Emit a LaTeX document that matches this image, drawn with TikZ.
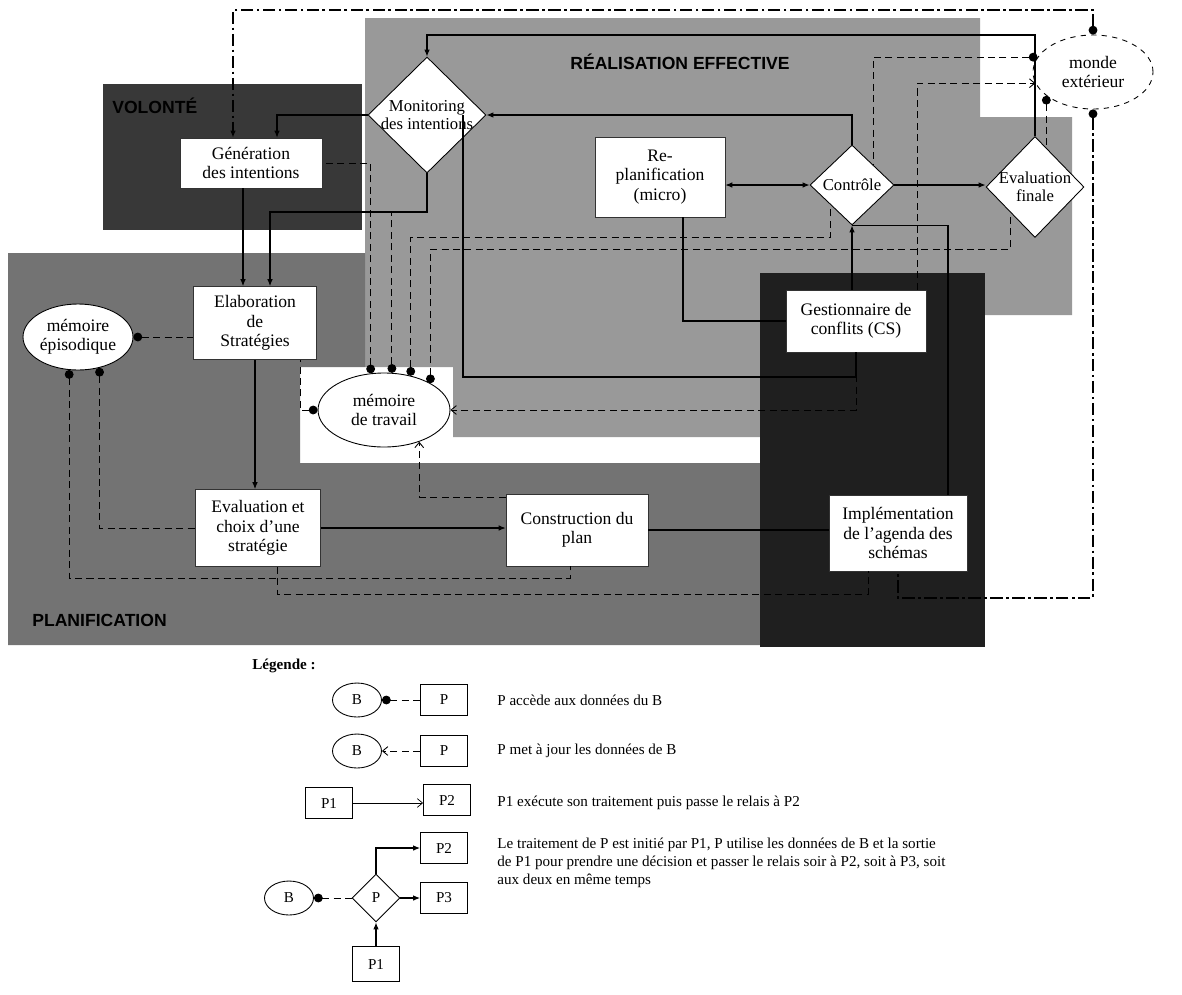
\documentclass[tikz,border=0pt]{standalone}
\usepackage{fontspec}
\setmainfont{Liberation Serif}
\setsansfont{Liberation Sans}
\usetikzlibrary{arrows.meta,shapes.geometric}

\begin{document}
\begin{tikzpicture}[x=0.02cm,y=-0.02cm,
    box/.style={draw=black!80,fill=white,line width=0.4pt,inner sep=1pt,
                font=\fontsize{10}{11}\selectfont,align=center},
    choice/.style={draw,fill=white,diamond,inner sep=0pt,line width=0.5pt},
    choicetext/.style={font=\fontsize{9.5}{10.5}\selectfont,align=center,inner sep=0pt},
    mem/.style={draw,fill=white,ellipse,inner sep=0pt,line width=0.5pt,
                font=\fontsize{10}{11}\selectfont,align=center},
    zone/.style={font=\sffamily\bfseries\fontsize{10}{11}\selectfont,
                 anchor=west,inner sep=0pt},
    flow/.style={-{Latex[length=4pt,width=3.2pt]},line width=0.6pt},
    link/.style={line width=0.6pt},
    dashline/.style={line width=0.5pt,dash pattern=on 4pt off 2.5pt},
    reads/.style={{Circle[length=5pt]}-,dashline},
    writes/.style={-{Straight Barb[length=3pt,width=5pt]},dashline},
    outer/.style={line width=0.9pt,dash pattern=on 7pt off 2pt on 1.5pt off 2pt},
    lbox/.style={draw,fill=white,line width=0.5pt,minimum width=0.94cm,
                 minimum height=0.62cm,inner sep=0pt,font=\fontsize{8.6}{10}\selectfont},
    lmem/.style={draw,ellipse,line width=0.5pt,minimum width=0.98cm,
                 minimum height=0.68cm,inner sep=0pt,font=\fontsize{8.6}{10}\selectfont},
    ltext/.style={anchor=west,align=left,inner sep=0pt,font=\fontsize{8.6}{10}\selectfont},
]

\useasboundingbox (0,0) rectangle (1182,994);

% ---- Zones ---------------------------------------------------------------
\fill[black!40] (365,18) -- (980,18) -- (980,117) -- (1072,117) -- (1072,315)
    -- (760,315) -- (760,437) -- (453,437) -- (453,367) -- (365,367) -- cycle;
\fill[black!55] (8,253) -- (365,253) -- (365,367) -- (300,367) -- (300,463)
    -- (760,463) -- (760,645) -- (8,645) -- cycle;
\fill[black!78] (103,84) rectangle (362,230);
\fill[black!88] (760,273) rectangle (985,647);

\node[zone] (zvol) at (112,106) {VOLONTÉ};
\node[zone] (zrea) at (570,62) {RÉALISATION EFFECTIVE};
\node[zone] (zpla) at (32,620) {PLANIFICATION};

% ---- Processes -------------------------------------------------------------
\node[box,minimum width=2.84cm,minimum height=1.0cm] (gen) at (251,163)
    {Génération\\des intentions};
\node[box,minimum width=2.46cm,minimum height=1.46cm] (elab) at (255,323)
    {Elaboration\\de\\Stratégies};
\node[box,minimum width=2.5cm,minimum height=1.54cm] (evalc) at (258,528)
    {Evaluation et\\choix d'une\\stratégie};
\node[box,minimum width=2.84cm,minimum height=1.44cm] (cons) at (577,530)
    {Construction du\\plan};
\node[box,minimum width=2.6cm,minimum height=1.6cm] (replan) at (660,177)
    {Re-\\planification\\(micro)};
\node[box,minimum width=2.8cm,minimum height=1.24cm] (cs) at (856,321)
    {Gestionnaire de\\conflits (CS)};
\node[box,minimum width=2.76cm,minimum height=1.52cm] (impl) at (898,533)
    {Implémentation\\de l'agenda des\\schémas};

% ---- Decisions -------------------------------------------------------------
\node[choice,minimum width=2.36cm,minimum height=2.32cm] (mon) at (427,115) {};
\node[choicetext] (mon-t) at (mon) {Monitoring\\des intentions};
\node[choice,minimum width=1.68cm,minimum height=1.6cm] (ctrl) at (852,185) {};
\node[choicetext] (ctrl-t) at (ctrl) {Contrôle};
\node[choice,minimum width=1.96cm,minimum height=2.02cm] (evalf) at (1035,187) {};
\node[choicetext] (evalf-t) at (evalf) {Evaluation\\finale};

% ---- Memories --------------------------------------------------------------
\node[mem,minimum width=2.2cm,minimum height=1.32cm] (mepi) at (78,337)
    {mémoire\\épisodique};
\node[mem,minimum width=2.64cm,minimum height=1.48cm] (mtrav) at (384,410)
    {mémoire\\de travail};
\node[mem,dashed,minimum width=2.4cm,minimum height=1.48cm] (monde) at (1093,72)
    {monde\\extérieur};

% ---- Helper coordinates ----------------------------------------------------
\coordinate (ol) at (0,10);
\coordinate (ytop) at (0,35);
\coordinate (m1) at (277,115);
\coordinate (m2) at (270,212);
\coordinate (r1) at (683,320);
\coordinate (s1) at (463,115);
\coordinate (s2) at (463,377);
\coordinate (c1) at (948,0);
\coordinate (d1) at (0,237);
\coordinate (d2) at (0,249);
\coordinate (b1) at (0,578);
\coordinate (b2) at (0,594);
\coordinate (ob) at (0,598);

% ---- Control flow ----------------------------------------------------------
\draw[flow] (evalf.north) -- (evalf.north |- ytop) -| (mon.north);
\draw[flow] (ctrl.north) |- (mon.east);
\draw[flow] (mon.west) -- (m1) -- (m1 |- gen.north);
\draw[flow] (mon.south) |- (m2) -- (m2 |- elab.north);
\draw[flow] ([xshift=-0.16cm]gen.south) -- ([xshift=-0.16cm]gen.south |- elab.north);
\draw[{Latex[length=4pt,width=3.2pt]}-{Latex[length=4pt,width=3.2pt]},line width=0.6pt]
    (replan.east |- ctrl.west) -- (ctrl.west);
\draw[flow] (ctrl.east) -- (ctrl.east -| evalf.west);
\draw[flow] (cs.north -| ctrl.south) -- (ctrl.south);
\draw[link] (impl.north -| c1) |- (ctrl.south);
\draw[link] (replan.south -| r1) |- (cs.west);
\draw[link] (s1) -- (s2) -| (cs.south);
\draw[flow] (elab.south) -- (elab.south |- evalc.north);
\draw[flow] (evalc.east) -- (evalc.east -| cons.west);
\draw[link] (cons.east) -- (cons.east -| impl.west);

% ---- Memory access ---------------------------------------------------------
\draw[reads] (mepi.east) -- (mepi.east -| elab.west);
\draw[reads] (mepi.305) |- (evalc.west);
\draw[reads] (mepi.255) -- (mepi.255 |- b1) -| ([xshift=-0.14cm]cons.south);
\draw[dashline] ([xshift=0.38cm]evalc.south) -- ([xshift=0.38cm]evalc.south |- b2)
    -| ([xshift=-0.6cm]impl.south);
\draw[reads] (mtrav.110) |- (gen.east);
\draw[reads] (mtrav.78) -- (mtrav.78 |- m2);
\draw[reads] (mtrav.52) -- (mtrav.52 |- d1) -| (ctrl.south west);
\draw[reads] (mtrav.30) -- (mtrav.30 |- d2) -| (evalf.south west);
\draw[reads] (mtrav.west) -| ([xshift=0.9cm]elab.south);
\draw[writes] (cs.south) |- (mtrav.east);
\draw[writes] ([yshift=0.66cm]cons.west) -| (mtrav.318);

% ---- Outside world ---------------------------------------------------------
\draw[reads] (monde.165) -| (ctrl.north east);
\draw[writes] ([xshift=1.22cm]cs.north) |- (monde.191);
\draw[reads] (monde.207) -- (monde.207 |- evalf.72);
\draw[outer,{Circle[length=5pt]}-{Latex[length=4pt,width=3.2pt]}]
    (monde.north) -- (monde.north |- ol) -| ([xshift=-0.36cm]gen.north);
\draw[outer,{Circle[length=5pt]}-] (monde.south) -- (monde.south |- ob) -| (impl.south);

% ---- Legend ----------------------------------------------------------------
\node[font=\bfseries\fontsize{8.6}{10}\selectfont,anchor=west,inner sep=0pt]
    (leg) at (252,666) {Légende :};

\node[lmem] (lb1) at (357,700) {B};
\node[lbox] (lp1) at (444,700) {P};
\draw[reads] (lb1.east) -- (lp1.west);
\node[ltext] (lt1) at (497,700) {P accède aux données du B};

\node[lmem] (lb2) at (357,751) {B};
\node[lbox] (lp2) at (444,751) {P};
\draw[writes] (lp2.west) -- (lb2.east);
\node[ltext] (lt2) at (497,751) {P met à jour les données de B};

\node[lbox] (lp3a) at (329,803) {P1};
\node[lbox] (lp3b) at (447,800) {P2};
\draw[-{Straight Barb[length=3pt,width=5pt]},line width=0.4pt]
    (lp3a.east) -- (lp3a.east -| lp3b.west);
\node[ltext] (lt3) at (497,803) {P1 exécute son traitement puis passe le relais à P2};

\node[lbox] (lq2) at (444,848) {P2};
\node[lbox] (lq3) at (444,898) {P3};
\node[choice,minimum width=0.96cm,minimum height=0.96cm,
      font=\fontsize{8.6}{10}\selectfont] (lqd) at (376,898) {P};
\node[lmem] (lqb) at (289,898) {B};
\node[lbox,minimum height=0.7cm] (lq1) at (376,964) {P1};
\draw[flow] (lq1.north) -- (lqd.south);
\draw[flow] (lqd.north) |- (lq2.west);
\draw[flow] (lqd.east) -- (lq3.west);
\draw[reads] (lqb.east) -- (lqd.west);
\node[ltext,anchor=north west] (lt4) at (497,838)
    {Le traitement de P est initié par P1, P utilise les données de B et la sortie\\
     de P1 pour prendre une décision et passer le relais soir à P2, soit à P3, soit\\
     aux deux en même temps};

\end{tikzpicture}
\end{document}
